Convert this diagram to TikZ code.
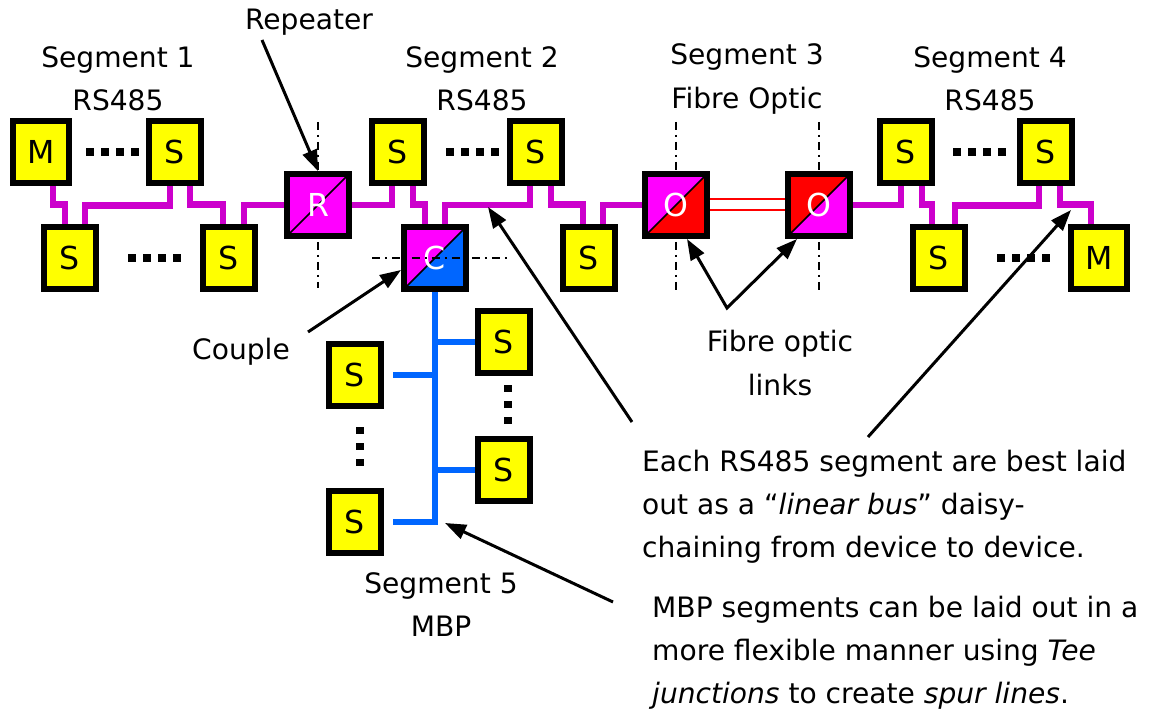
\documentclass[tikz,border=0pt]{standalone}
\usepackage{fontspec}
\setmainfont{DejaVu Sans}
\usetikzlibrary{arrows.meta,calc}

\definecolor{busmag}{RGB}{204,0,204}
\definecolor{boxmag}{RGB}{255,0,255}
\definecolor{boxred}{RGB}{255,0,0}
\definecolor{mbpblue}{RGB}{0,102,255}
\definecolor{devyellow}{RGB}{255,255,0}

\newcommand{\boxfont}{\fontsize{18pt}{20pt}\selectfont}

\tikzset{
  dev/.style={draw=black, fill=devyellow, line width=0.12cm, minimum width=1.04cm,
    minimum height=1.26cm, inner sep=0pt, font=\boxfont},
  master/.style={dev, minimum width=1.12cm},
  twotone/.style 2 args={draw=black, line width=0.12cm, minimum width=1.24cm,
    minimum height=1.24cm, inner sep=0pt, text=white, font=\boxfont,
    path picture={
      \fill[#1] (path picture bounding box.north west) -- (path picture bounding box.north east)
        -- (path picture bounding box.south west) -- cycle;
      \fill[#2] (path picture bounding box.north east) -- (path picture bounding box.south east)
        -- (path picture bounding box.south west) -- cycle;
      \draw[black, line width=0.035cm] (path picture bounding box.south west)
        -- (path picture bounding box.north east);
    }},
  rsbus/.style={draw=busmag, line width=0.13cm},
  mbpbus/.style={draw=mbpblue, line width=0.13cm},
  fibre/.style={draw=boxred, line width=0.04cm, double=white, double distance=0.18cm},
  axisline/.style={line width=0.04cm, dash pattern=on 0.16cm off 0.1cm on 0.04cm off 0.1cm},
  callout/.style={->, line width=0.06cm},
  label/.style={align=center},
  note/.style={align=left, anchor=west}
}

\begin{document}
\begin{tikzpicture}[x=0.02cm, y=-0.02cm, line join=miter,
  >={Triangle[length=0.42cm,width=0.3cm]},
  font=\fontsize{16pt}{24.5pt}\selectfont]
\useasboundingbox (0,0) rectangle (1161,716);
% dash-dot lines behind the repeater and the optic links
\draw[axisline] (318,122) -- (318,288);
\draw[axisline] (676,122) -- (676,292);
\draw[axisline] (819,122) -- (819,292);
% Segment 1
\node[master] (M1) at (41,152) {M};
\node[dev] (S1b) at (175,152) {S};
\node[dev] (S1a) at (70,258) {S};
\node[dev] (S1c) at (229,258) {S};
% repeater
\node[twotone={boxmag}{boxmag}] (R) at (318,205) {R};
% Segment 2
\node[dev] (S2a) at (398,152) {S};
\node[dev] (S2b) at (536,152) {S};
\node[twotone={boxmag}{mbpblue}] (C) at (435,258) {C};
\node[dev] (S2c) at (589,258) {S};
% Segment 3 - optic links
\node[twotone={boxmag}{boxred}] (O1) at (676,205) {O};
\node[twotone={boxred}{boxmag}] (O2) at (819,205) {O};
% Segment 4
\node[dev] (S4a) at (906,152) {S};
\node[dev] (S4b) at (1046,152) {S};
\node[dev] (S4c) at (939,258) {S};
\node[master] (M4) at (1099,258) {M};
% Segment 5
\node[dev] (S5a) at (504,342) {S};
\node[dev] (S5b) at (355,375) {S};
\node[dev] (S5c) at (504,470) {S};
\node[dev] (S5d) at (355,522) {S};
% horizontal and vertical dots
\foreach \x/\y in {86/152, 128/258, 446/152, 953/152, 997/258}
  \foreach \k in {0,...,3}
    \fill ({\x+15*\k},\y-3.75) rectangle +(7.5,7.5);
\foreach \x/\y in {360/427, 508/385}
  \foreach \k in {0,...,2}
    \fill (\x-3.75,{\y+16*\k}) rectangle +(7.5,7.5);
% RS485 daisy chains
\draw[rsbus] ([shift={(12,0)}]M1.south) -- ++(0,18) -| ([shift={(-5,0)}]S1a.north);
\draw[rsbus] ([shift={(15,0)}]S1a.north) -- ++(0,-18) -| ([shift={(-5,0)}]S1b.south);
\draw[rsbus] ([shift={(15,0)}]S1b.south) -- ++(0,18) -| ([shift={(-6,0)}]S1c.north);
\draw[rsbus] ([shift={(15,0)}]S1c.north) |- (R.west);
\draw[rsbus] (R.east) -| ([shift={(-6,0)}]S2a.south);
\draw[rsbus] ([shift={(15,0)}]S2a.south) -- ++(0,18) -| ([shift={(-10,0)}]C.north);
\draw[rsbus] ([shift={(10,0)}]C.north) -- ++(0,-19) -| ([shift={(-6,0)}]S2b.south);
\draw[rsbus] ([shift={(15,0)}]S2b.south) -- ++(0,18) -| ([shift={(-6,0)}]S2c.north);
\draw[rsbus] ([shift={(14,0)}]S2c.north) |- (O1.west);
\draw[rsbus] (O2.east) -| ([shift={(-5,0)}]S4a.south);
\draw[rsbus] ([shift={(16,0)}]S4a.south) -- ++(0,18) -| ([shift={(-7,0)}]S4c.north);
\draw[rsbus] ([shift={(16,0)}]S4c.north) -- ++(0,-18) -| ([shift={(-7,0)}]S4b.south);
\draw[rsbus] ([shift={(14,0)}]S4b.south) -- ++(0,18) -| ([shift={(-8,0)}]M4.north);
% fibre link
\draw[fibre] (O1.east) -- (O2.west);
% coupler axis on top
\draw[axisline] (372,258) -- (510,258);
% MBP trunk and spurs
\coordinate (tee) at (C.south |- S5d.east);
\draw[mbpbus] (C.south) -- (tee) -- ([shift={(9,0)}]S5d.east);
\draw[mbpbus] (C.south |- S5a.west) -- (S5a.west);
\draw[mbpbus] (C.south |- S5b.east) -- ([shift={(9,0)}]S5b.east);
\draw[mbpbus] (C.south |- S5c.west) -- (S5c.west);
% Labels
\node[label] (seg1) at (118,79) {Segment 1\\RS485};
\node[label] (seg2) at (482,79) {Segment 2\\RS485};
\node[label] (seg3) at (747,79) {Segment 3\\Fibre Optic};
\node[label] (seg4) at (990,79) {Segment 4\\RS485};
\node[label] (rep) at (309,22) {Repeater};
\node[label] (couple) at (241,352) {Couple};
\node[label] (fol) at (780,363) {Fibre optic\\links};
\node[label] (seg5) at (441,605) {Segment 5\\MBP};
\node[note] (note1) at (636,507) {Each RS485 segment are best laid\\out as a “\textit{linear bus}” daisy-\\chaining from device to device.};
\node[note] (note2) at (646,653) {MBP segments can be laid out in a\\more flexible manner using \textit{Tee}\\\textit{junctions} to create \textit{spur lines}.};
% callout arrows
\coordinate (repTail) at (262,40);
\coordinate (coupleTail) at (308,332);
\coordinate (fibreApex) at (727,308);
\coordinate (busTip2) at (488,207);
\coordinate (busTail2) at (632,422);
\coordinate (busTip4) at (1071,210);
\coordinate (busTail4) at (868,437);
\coordinate (mbpTail) at (613,602);
\draw[callout] (repTail) -- (R.north);
\draw[callout] (coupleTail) -- ([shift={(0,12)}]C.west);
\draw[callout, <->] ([shift={(11,0)}]O1.south) -- (fibreApex) -- ([shift={(12,0)}]O2.south west);
\draw[callout] (busTail2) -- (busTip2);
\draw[callout] (busTail4) -- (busTip4);
\draw[callout] (mbpTail) -- ([shift={(10,1)}]tee);
\end{tikzpicture}
\end{document}
